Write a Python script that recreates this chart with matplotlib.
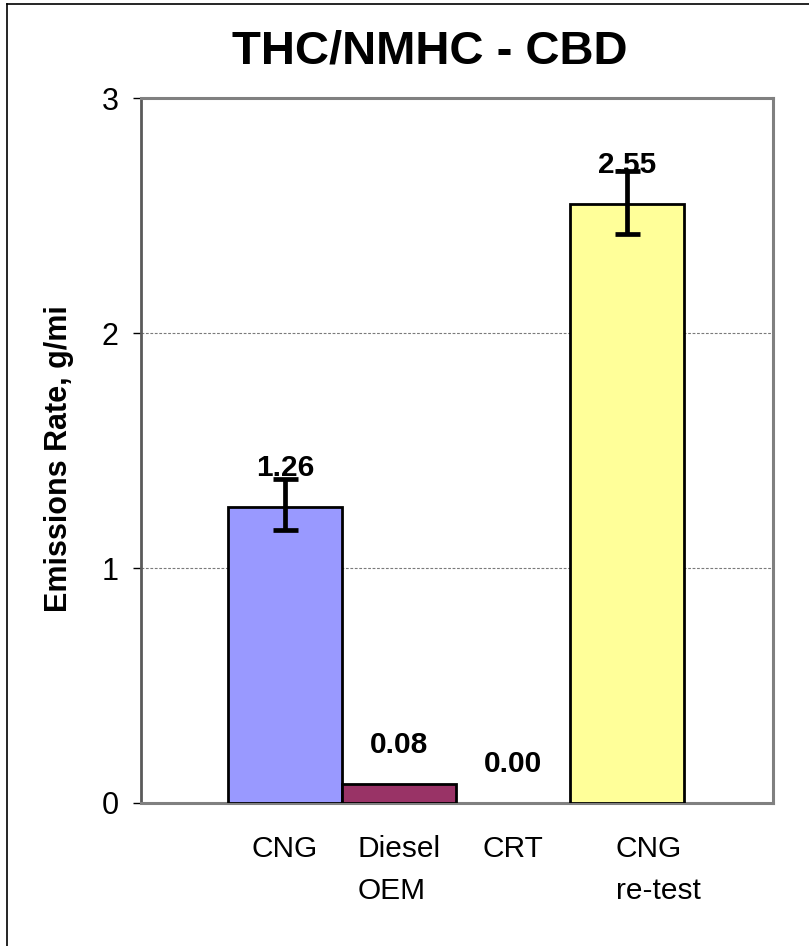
import matplotlib
matplotlib.use("Agg")
import matplotlib.pyplot as plt
import matplotlib.transforms as mtransforms
from matplotlib.lines import Line2D
import numpy as np

plt.rcParams['font.family'] = ['Liberation Sans', 'DejaVu Sans']

# ---- data ----
categories = ["CNG", "Diesel\nOEM", "CRT", "CNG\nre-test"]
values = [1.26, 0.08, 0.00, 2.55]
err_low = [0.10, 0.0, 0.0, 0.13]
err_high = [0.12, 0.0, 0.0, 0.14]
value_labels = ["1.26", "0.08", "0.00", "2.55"]
has_err = [True, False, False, True]
bar_colors = ["#9999FF", "#993366", "#FFFFCC", "#FFFF99"]
yticks = [0, 1, 2, 3]
title = "THC/NMHC - CBD"
ylabel = "Emissions Rate, g/mi"

W, H = 809, 946
fig = plt.figure(figsize=(W / 100, H / 100), dpi=100)
ax = fig.add_axes([141 / W, 1 - 803 / H, (773 - 141) / W, (803 - 98) / H])

x = np.arange(len(values))
lws = [2.0 if v > 0 else 0 for v in values]
ax.bar(x, values, width=1.0, color=bar_colors, edgecolor="black",
       linewidth=lws, zorder=3)

# error bars
for xi, v, lo, hi, e in zip(x, values, err_low, err_high, has_err):
    if e:
        _, caps, lines = ax.errorbar(xi, v, yerr=[[lo], [hi]], fmt="none", ecolor="black",
                                     elinewidth=3.4, capsize=9, capthick=3.4, zorder=5)
        for c in caps:
            c.set_solid_capstyle("round")

# value labels
for xi, v, lab in zip(x, values, value_labels):
    ax.text(xi, v + 0.165, lab, ha="center", va="center", fontsize=21.5,
            fontweight="bold", zorder=6)

ax.set_xlim(-1.263, 4.28)
ax.set_ylim(0, 3)
ax.set_yticks(yticks)
ax.set_yticklabels([str(t) for t in yticks], fontsize=22)
ax.tick_params(axis="y", direction="out", length=6, width=1.0, color="black", pad=10)

ax.set_xticks(x)
ax.set_xticklabels(categories, fontsize=21.5, linespacing=1.62)
ax.tick_params(axis="x", length=0, pad=23)
for i, lab in enumerate(ax.get_xticklabels()):
    lab.set_multialignment("left")
    if i == 3:
        lab.set_transform(lab.get_transform() +
                          mtransforms.ScaledTranslation(31 / 100, 0, fig.dpi_scale_trans))

ax.yaxis.grid(True, color="#7a7a7a", linestyle=(0, (2.5, 1.5)), linewidth=0.8)
ax.set_axisbelow(True)

for side in ["top", "right", "bottom"]:
    ax.spines[side].set_color("#808080")
    ax.spines[side].set_linewidth(2.2)
ax.spines["left"].set_color("#5a5a5a")
ax.spines["left"].set_linewidth(2.0)

fig.text(430 / W, 1 - 51.5 / H, title, ha="center", va="center",
         fontsize=34, fontweight="bold")
fig.text(59 / W, 1 - 459 / H, ylabel, ha="center", va="center",
         rotation=90, fontsize=22, fontweight="bold")

# outer border (top and left only visible)
fig.add_artist(Line2D([6.5 / W, 6.5 / W], [0, 1 - 4.5 / H], color="black",
                      linewidth=1.2, transform=fig.transFigure))
fig.add_artist(Line2D([6.5 / W, 1], [1 - 4.5 / H, 1 - 4.5 / H], color="black",
                      linewidth=1.2, transform=fig.transFigure))

fig.savefig("out.png", dpi=100, facecolor="white")
